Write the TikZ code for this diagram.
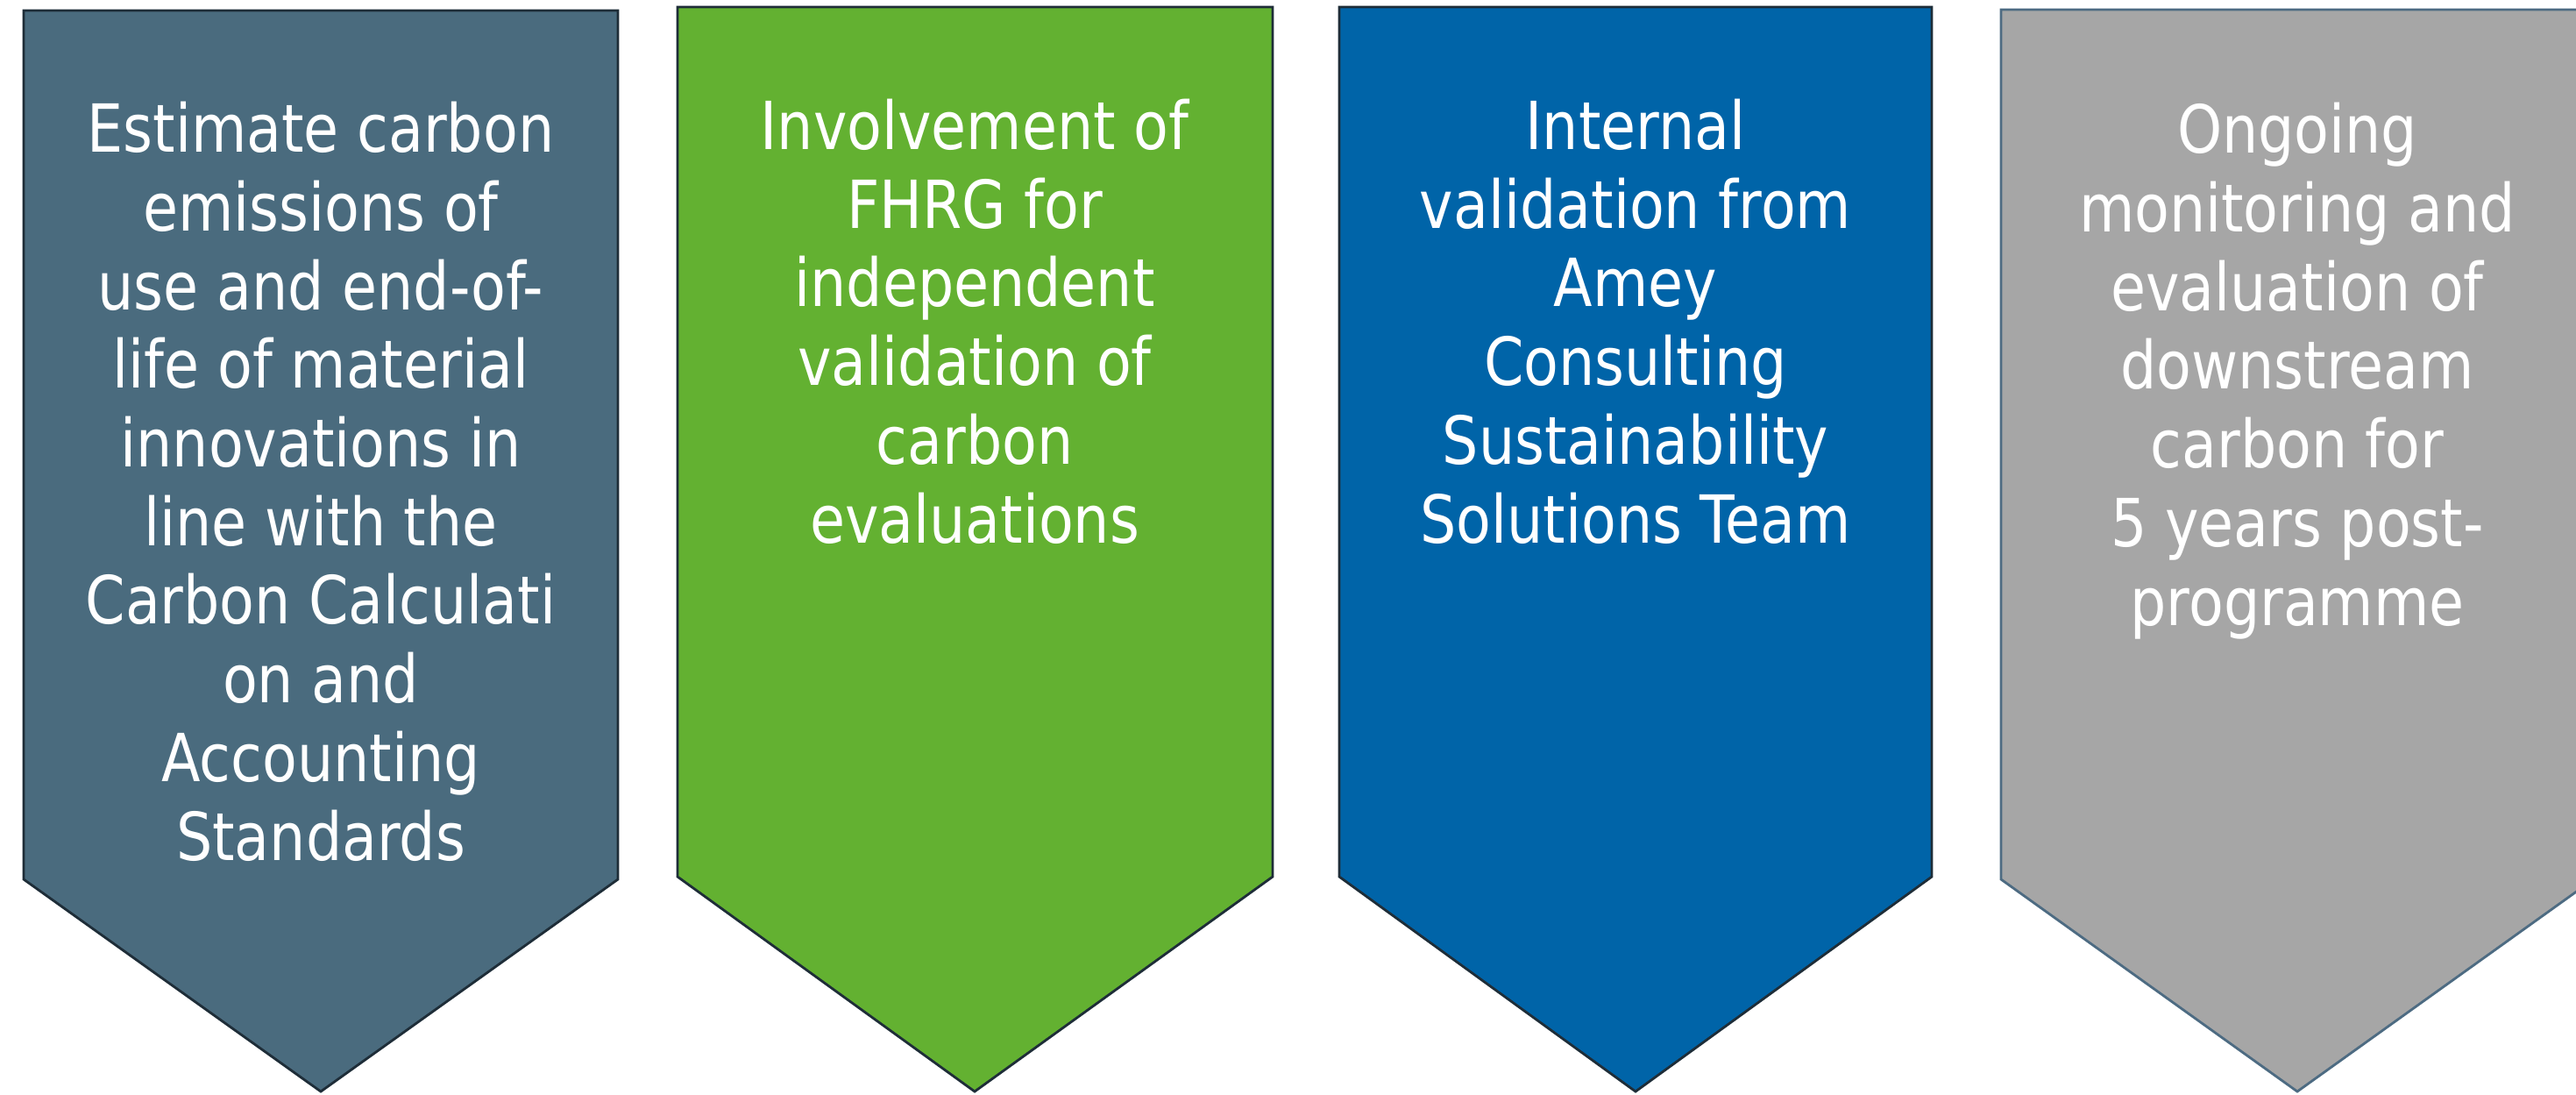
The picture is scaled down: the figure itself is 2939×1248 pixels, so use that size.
\documentclass[tikz,border=0pt]{standalone}
\usepackage{fontspec}
\setmainfont{DejaVu Sans}[FakeStretch=0.86]
\usepackage{tikz}
\usetikzlibrary{positioning}
\definecolor{slate}{HTML}{4A6B7E}
\definecolor{leaf}{HTML}{63B131}
\definecolor{ocean}{HTML}{0064A8}
\definecolor{stone}{HTML}{A6A6A6}
\definecolor{edge}{HTML}{1E2D38}
\definecolor{greyedge}{HTML}{4D6B82}

\begin{document}
\begin{tikzpicture}[x=0.01cm, y=-0.01cm,
    banner/.style={draw=edge, line width=0.8pt, line join=miter},
    label/.style={anchor=base, inner sep=0pt, align=center, text=white, font=\fontsize{21.5pt}{25.5pt}\selectfont}
]
\useasboundingbox (0,0) rectangle (2939,1248);
\clip (0,0) rectangle (2939,1248);
% Banners
\draw[banner, fill=slate] (27,12) -- (705,12) -- (705,1003) -- (366,1245) -- (27,1003) -- cycle;
\draw[banner, fill=leaf] (773,8) -- (1452,8) -- (1452,1000) -- (1112,1245) -- (773,1000) -- cycle;
\draw[banner, fill=ocean] (1528,8) -- (2204,8) -- (2204,1000) -- (1866,1245) -- (1528,1000) -- cycle;
\draw[banner, draw=greyedge, fill=stone] (2283,11) -- (2959,11) -- (2959,1003) -- (2621,1245) -- (2283,1003) -- cycle;
% Texts (base = last line)
\node[label] (estimate) at (366,981) {Estimate carbon\\emissions of\\use and end-of-\\life of material\\innovations in\\line with the\\Carbon Calculati\\on and\\Accounting\\Standards};
\node[label] (fhrg) at (1112,619) {Involvement of\\FHRG for\\independent\\validation of\\carbon\\evaluations};
\node[label] (internal) at (1866,619) {Internal\\validation from\\Amey\\Consulting\\Sustainability\\Solutions Team};
\node[label] (ongoing) at (2621,713) {Ongoing\\monitoring and\\evaluation of\\downstream\\carbon for\\5 years post-\\programme};
\end{tikzpicture}
\end{document}
